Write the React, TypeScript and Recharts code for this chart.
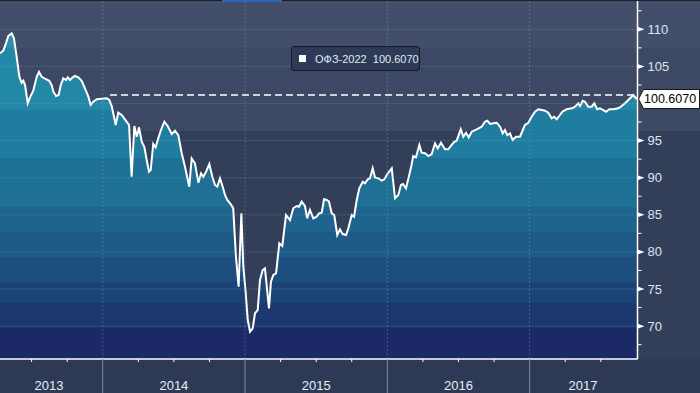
import {
  Area,
  AreaChart,
  ReferenceDot,
  ReferenceLine,
  XAxis,
  YAxis,
} from "recharts";

// decimal years (weekly-ish samples)
const dates = [
  2013.278, 2013.301, 2013.32, 2013.336, 2013.36, 2013.376, 2013.395, 2013.414, 2013.43, 2013.442,
  2013.454, 2013.473, 2013.489, 2013.512, 2013.536, 2013.552, 2013.571, 2013.594, 2013.624, 2013.641,
  2013.653, 2013.672, 2013.69, 2013.705, 2013.723, 2013.742, 2013.754, 2013.77, 2013.789, 2013.805,
  2013.828, 2013.852, 2013.875, 2013.899, 2013.915, 2013.934, 2013.958, 2013.993, 2014.028, 2014.046,
  2014.063, 2014.091, 2014.109, 2014.133, 2014.156, 2014.185, 2014.203, 2014.222, 2014.239, 2014.255,
  2014.274, 2014.292, 2014.309, 2014.325, 2014.337, 2014.355, 2014.372, 2014.39, 2014.409, 2014.433,
  2014.456, 2014.485, 2014.508, 2014.531, 2014.555, 2014.578, 2014.608, 2014.625, 2014.648, 2014.672,
  2014.691, 2014.707, 2014.726, 2014.749, 2014.77, 2014.789,
  2014.805, 2014.824, 2014.843, 2014.859, 2014.875, 2014.899, 2014.917, 2014.936, 2014.955, 2014.974,
  2014.988, 2015.005, 2015.019, 2015.035, 2015.054, 2015.07, 2015.089, 2015.105, 2015.124, 2015.14,
  2015.168, 2015.182, 2015.199, 2015.218, 2015.241, 2015.262, 2015.288, 2015.316, 2015.339, 2015.363,
  2015.379, 2015.398, 2015.421, 2015.437, 2015.456, 2015.48, 2015.503, 2015.52, 2015.539, 2015.555,
  2015.574, 2015.59, 2015.609, 2015.627, 2015.648, 2015.667, 2015.686, 2015.71, 2015.726, 2015.75,
  2015.766, 2015.785, 2015.803, 2015.827, 2015.843, 2015.862, 2015.878, 2015.897, 2015.913, 2015.937,
  2015.96, 2015.979, 2016.0, 2016.031, 2016.054, 2016.077, 2016.096,
  2016.11, 2016.131, 2016.154, 2016.17, 2016.182, 2016.201, 2016.225, 2016.241, 2016.265, 2016.288,
  2016.312, 2016.335, 2016.354, 2016.377, 2016.405, 2016.428, 2016.452, 2016.471, 2016.487, 2016.516,
  2016.534, 2016.553, 2016.572, 2016.593, 2016.628, 2016.663, 2016.686, 2016.703, 2016.722, 2016.745,
  2016.769, 2016.792, 2016.811, 2016.827, 2016.843, 2016.862, 2016.881, 2016.904, 2016.932, 2016.967,
  2016.991, 2017.014, 2017.038, 2017.061, 2017.085, 2017.108, 2017.131, 2017.155, 2017.173, 2017.19,
  2017.213, 2017.23, 2017.26, 2017.296, 2017.319, 2017.342, 2017.354, 2017.373, 2017.389, 2017.412,
  2017.436, 2017.454, 2017.475, 2017.494, 2017.518, 2017.537, 2017.56, 2017.588, 2017.623, 2017.647,
  2017.67, 2017.693, 2017.717, 2017.728, 2017.752,
];

const prices = [
  106.77, 107.12, 108.11, 109.1, 109.46, 108.79, 106.31, 103.61, 102.8, 103.07,
  102.49, 100.03, 100.84, 101.73, 103.61, 104.25, 103.61, 103.34, 103.07, 102.49,
  101.59, 101.01, 101.15, 102.49, 103.4, 103.17, 103.53, 103.17, 103.53, 103.71,
  103.53, 103.07, 102.05, 100.92, 99.8, 100.24, 100.57, 100.65, 100.7, 100.47,
  99.66, 97.1, 98.76, 98.45, 97.87, 97.1, 90.13, 96.97, 95.53, 96.79,
  94.85, 94.18, 92.39, 90.81, 91.04, 94.54, 94.1, 95.31, 96.43, 97.55,
  96.97, 95.89, 96.33, 95.75, 93.29, 91.48, 88.79, 92.61, 91.94, 89.33,
  90.59, 90.13, 90.81, 91.85, 90.13, 89.02,
  88.79, 89.92, 88.79, 87.67, 87.0, 86.46, 85.88, 79.35, 75.31, 85.2,
  78.01, 74.42, 70.82, 69.25, 69.7, 71.73, 72.17, 76.21, 77.56, 77.79,
  72.4, 75.98, 76.89, 77.12, 81.16, 80.8, 84.97, 84.3, 85.88, 86.19,
  86.09, 86.77, 86.19, 84.53, 85.65, 84.53, 84.74, 85.2, 85.28, 87.09,
  87.0, 86.77, 85.2, 84.97, 82.28, 83.05, 82.41, 82.28, 83.18, 84.97,
  84.74, 87.0, 88.57, 89.46, 89.25, 89.78, 89.92, 91.27, 90.05, 89.92,
  89.6, 89.78, 90.5, 91.27, 87.22, 87.67, 89.02,
  89.15, 88.57, 90.36, 91.71, 92.92, 92.75, 94.41, 93.37, 93.29, 92.92,
  93.19, 94.64, 93.96, 94.72, 93.83, 93.83, 94.41, 94.85, 94.99, 96.52,
  95.53, 96.06, 95.44, 96.2, 96.52, 96.87, 97.55, 97.68, 97.24, 97.33,
  97.41, 96.87, 95.98, 96.43, 95.75, 95.98, 95.08, 95.53, 95.53, 97.1,
  97.41, 98.22, 98.89, 99.22, 99.12, 99.03, 98.76, 98.0, 98.22, 97.87,
  98.45, 98.89, 99.22, 99.35, 99.57, 100.03, 99.66, 100.38, 100.24, 99.57,
  99.57, 100.03, 99.22, 99.35, 99.12, 98.89, 99.22, 99.22, 99.35, 99.66,
  100.03, 100.47, 100.92, 101.15, 100.61,
];

const SERIES_NAME = "ОФЗ-2022";
const LAST_PRICE = 100.607;
const LAST_LABEL = "100.6070";
const DASH_LEVEL = 101.15;
const DASH_START = 2014.051;

const X_DOMAIN = [2013.278, 2017.758];
const Y_DOMAIN = [65.57, 113.95];

const quarterTicks = [
  2013.5, 2013.75, 2014, 2014.25, 2014.5, 2014.75, 2015, 2015.25, 2015.5, 2015.75,
  2016, 2016.25, 2016.5, 2016.75, 2017, 2017.25, 2017.5,
];
const yearLines = [2014, 2015, 2016, 2017];
const yearLabels = [
  { year: "2013", at: 2013.622 },
  { year: "2014", at: 2014.5 },
  { year: "2015", at: 2015.5 },
  { year: "2016", at: 2016.5 },
  { year: "2017", at: 2017.375 },
];
const gridLevels = [70, 75, 80, 85, 90, 95, 100, 105, 110];
const priceLabels = [70, 75, 80, 85, 90, 95, 105, 110];
const minorPriceTicks = [67.5, 72.5, 77.5, 82.5, 87.5, 92.5, 97.5, 102.5, 107.5, 112.5];

const data = dates.map((t, i) => ({ t, price: prices[i] }));

const xTicks = Array.from(
  new Set([...quarterTicks, ...yearLabels.map((l) => l.at)])
).sort((a, b) => a - b);
const yTicks = [...gridLevels, ...minorPriceTicks].sort((a, b) => a - b);

const W = 700;
const H = 393;
const AXIS_X = 637.5;
const AXIS_Y = 359;
const FONT = "'Liberation Sans', Arial, sans-serif";
const GRID = "rgba(115, 170, 205, 0.4)";

// stepped fill bands (pixel rows), light teal at top to navy at bottom
const fillBands = [
  { to: 48, color: "#2a8fad" },
  { to: 110, color: "#2288a6" },
  { to: 158, color: "#1f7d9f" },
  { to: 207, color: "#1f7095" },
  { to: 232, color: "#1f648c" },
  { to: 257, color: "#1e5a86" },
  { to: 282, color: "#1d4e7e" },
  { to: 303, color: "#1c4376" },
  { to: 328, color: "#1c386e" },
  { to: 359, color: "#1b2966" },
];

function XTick(props: any) {
  const { x, payload } = props;
  const v = payload.value;
  const isYear = yearLines.includes(v);
  const isQuarter = quarterTicks.includes(v);
  const label = yearLabels.find((l) => l.at === v);
  return (
    <g>
      {isYear ? (
        <line stroke="#838da1" x1={x} x2={x} y1={AXIS_Y} y2={H} />
      ) : isQuarter ? (
        <line stroke="#ffffff" x1={x} x2={x} y1={AXIS_Y} y2={AXIS_Y + 3} />
      ) : null}
      {label && (
        <text
          fill="#e6edf5"
          fontFamily={FONT}
          fontSize={13}
          textAnchor="middle"
          x={x}
          y={390}
        >
          {label.year}
        </text>
      )}
    </g>
  );
}

function YTick(props: any) {
  const { y, payload } = props;
  const v = payload.value;
  if (minorPriceTicks.includes(v)) {
    return <line stroke="#ffffff" x1={AXIS_X} x2={AXIS_X + 4} y1={y} y2={y} />;
  }
  if (!priceLabels.includes(v)) {
    return <g />;
  }
  return (
    <g>
      <polygon
        fill="#ffffff"
        points={`${AXIS_X},${y - 2.5} ${AXIS_X + 7},${y} ${AXIS_X},${y + 2.5}`}
      />
      <text
        dominantBaseline="central"
        fill="#d8e6f4"
        fontFamily={FONT}
        fontSize={13}
        x={AXIS_X + 10}
        y={y}
      >
        {v}
      </text>
    </g>
  );
}

function LastPriceTag(props: any) {
  const { cy } = props;
  const left = AXIS_X + 1;
  return (
    <g>
      <polygon
        fill="#ffffff"
        points={`${left},${cy} ${left + 5},${cy - 9.5} ${W - 0.5},${cy - 9.5} ${W - 0.5},${cy + 9.5} ${left + 5},${cy + 9.5}`}
        stroke="#1a1a1a"
        strokeWidth={1}
      />
      <text
        dominantBaseline="central"
        fill="#000000"
        fontFamily={FONT}
        fontSize={12.5}
        x={left + 5.5}
        y={cy}
      >
        {LAST_LABEL}
      </text>
    </g>
  );
}

export default function App() {
  const stops: any[] = [];
  let from = 0;
  for (const band of fillBands) {
    stops.push({ offset: from / AXIS_Y, color: band.color });
    stops.push({ offset: band.to / AXIS_Y, color: band.color });
    from = band.to;
  }

  return (
    <div
      style={{
        position: "absolute",
        left: 0,
        top: 0,
        width: W,
        height: H,
        overflow: "hidden",
        background:
          "linear-gradient(to bottom, #434f6a 0px, #434f6a 48px, #3d4964 48px, #3d4964 131px, #333e59 131px, #333e59 359px, #2e3a55 359px, #2e3a55 393px)",
      }}
    >
      <AreaChart
        data={data}
        height={H}
        margin={{ top: 0, right: 0, left: 0, bottom: 0 }}
        width={W}
      >
        <defs>
          <linearGradient
            gradientUnits="userSpaceOnUse"
            id="bandFill"
            x1="0"
            x2="0"
            y1="0"
            y2={AXIS_Y}
          >
            {stops.map((s, i) => (
              <stop key={i} offset={s.offset} stopColor={s.color} />
            ))}
          </linearGradient>
        </defs>
        <XAxis
          allowDataOverflow
          axisLine={{ stroke: "#ffffff", strokeWidth: 1.5 }}
          dataKey="t"
          domain={X_DOMAIN}
          height={H - AXIS_Y}
          interval={0}
          scale="linear"
          tick={XTick}
          tickLine={false}
          ticks={xTicks}
          type="number"
        />
        <YAxis
          allowDataOverflow
          axisLine={{ stroke: "#ffffff", strokeWidth: 1.5 }}
          domain={Y_DOMAIN}
          interval={0}
          orientation="right"
          tick={YTick}
          tickLine={false}
          ticks={yTicks}
          type="number"
          width={W - AXIS_X}
        />
        <Area
          baseValue="dataMin"
          dataKey="price"
          dot={false}
          fill="url(#bandFill)"
          fillOpacity={1}
          isAnimationActive={false}
          stroke="#ffffff"
          strokeWidth={2}
          type="linear"
        />
        {gridLevels.map((v) => (
          <ReferenceLine
            key={`h${v}`}
            stroke={GRID}
            strokeDasharray="2 2"
            y={v}
          />
        ))}
        {yearLines.map((v) => (
          <ReferenceLine
            key={`v${v}`}
            stroke={GRID}
            strokeDasharray="2 2"
            x={v}
          />
        ))}
        <ReferenceLine
          segment={[
            { x: DASH_START, y: DASH_LEVEL },
            { x: X_DOMAIN[1], y: DASH_LEVEL },
          ]}
          stroke="#ffffff"
          strokeDasharray="7 4"
          strokeWidth={1.3}
        />
        <ReferenceDot
          ifOverflow="visible"
          r={0}
          shape={LastPriceTag}
          x={X_DOMAIN[1]}
          y={LAST_PRICE}
        />
      </AreaChart>

      <div style={{ position: "absolute", left: 0, top: 0, width: W, height: 1, background: "#1e1f22" }} />
      <div style={{ position: "absolute", left: 222, top: 0, width: 60, height: 2, background: "#2d66b8" }} />

      <div
        style={{
          position: "absolute",
          left: 291,
          top: 46,
          width: 129,
          height: 25,
          boxSizing: "border-box",
          background: "#2f3b56",
          border: "1px solid #141a29",
          borderRadius: 3,
          display: "flex",
          alignItems: "center",
          fontFamily: FONT,
          fontSize: 11,
          color: "#dfe8f3",
          whiteSpace: "pre",
        }}
      >
        <span
          style={{
            display: "inline-block",
            width: 7,
            height: 7,
            background: "#ffffff",
            marginLeft: 7,
            marginRight: 9,
          }}
        />
        <span>{`${SERIES_NAME}  ${LAST_LABEL}`}</span>
      </div>
    </div>
  );
}
